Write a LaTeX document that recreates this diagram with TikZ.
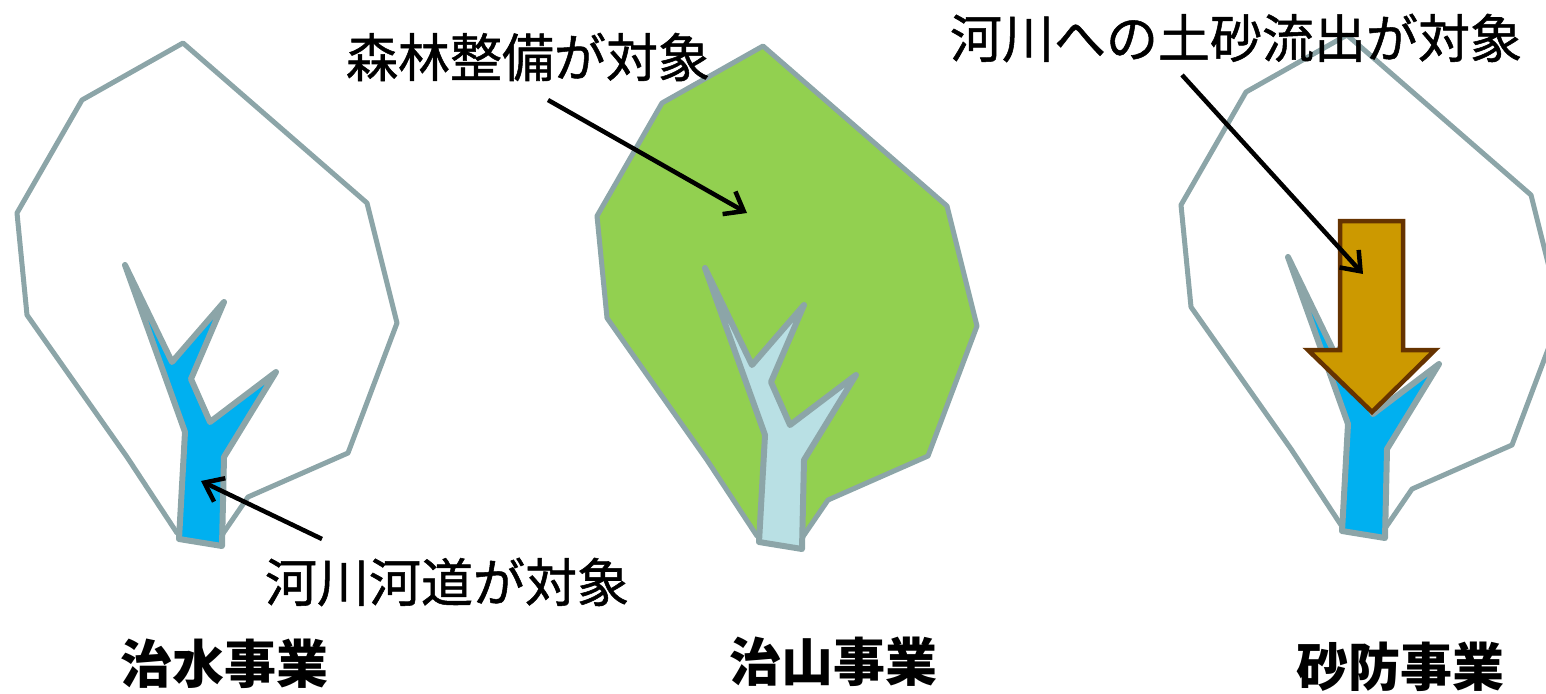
\documentclass[tikz,border=0pt]{standalone}
\usepackage{fontspec}
\newfontfamily\jpfont{Noto Sans CJK JP}
\newfontfamily\jpnote[FakeBold=1]{Noto Sans CJK JP}
\usetikzlibrary{arrows.meta}

\definecolor{rim}{RGB}{140,165,168}
\definecolor{stream}{RGB}{0,176,240}
\definecolor{palestream}{RGB}{185,224,228}
\definecolor{leaf}{RGB}{146,208,80}
\definecolor{sediment}{RGB}{204,153,0}
\definecolor{sedimentedge}{RGB}{102,51,0}

\tikzset{
  % catchment outline (tree crown)
  crown/.pic={
    \path[pic actions, draw=rim, line width=5pt, line join=round]
      (183,43) -- (82,100) -- (17,213) -- (27,315) -- (127,457) -- (177,533)
      -- (222,535) -- (248,497) -- (348,453) -- (397,323) -- (367,203) -- cycle;
  },
  % river channel with its tributaries
  channel/.pic={
    \path[pic actions, draw=rim, line width=6pt, line join=round]
      (125,265) -- (172,362) -- (224,302) -- (191,379) -- (210,422) -- (276,372)
      -- (224,457) -- (222,546) -- (179,539) -- (185,432) -- cycle;
  },
  pointer/.style={line width=4.5pt, -{Straight Barb[length=17pt,width=26pt]}},
  note/.style={inner sep=0pt, font=\jpnote\fontsize{52pt}{60pt}\selectfont},
  title/.style={inner sep=0pt, font=\jpfont\bfseries\fontsize{52pt}{60pt}\selectfont},
}

\begin{document}
\begin{tikzpicture}[x=1pt, y=-1pt]
  \useasboundingbox (0,0) rectangle (1546,693);

  % flood control: river channel
  \pic at (0,0) {crown};
  \pic[fill=stream] at (0,0) {channel};

  % forest conservation: whole forested catchment
  \pic[fill=leaf] at (580,3) {crown};
  \pic[fill=palestream] at (580,3) {channel};

  % erosion control: sediment supplied to the river
  \pic at (1164,-8) {crown};
  \pic[fill=stream] at (1163,-8) {channel};
  \path[fill=sediment, draw=sedimentedge, line width=4.5pt, line join=miter]
    (1340,221) -- (1403,221) -- (1403,350) -- (1435,350) -- (1372,412)
    -- (1308,350) -- (1340,350) -- cycle;

  % annotations
  \node[note] (forestlbl) at (528,57) {森林整備が対象};
  \node[note] (sedimentlbl) at (1236,38) {河川への土砂流出が対象};
  \node[note] (channellbl) at (447,582) {河川河道が対象};

  \coordinate (forestfrom) at (548,100);
  \coordinate (foresttip) at (747,213);
  \coordinate (channelfrom) at (322,539);
  \coordinate (channeltip) at (201,481);
  \coordinate (sedimentfrom) at (1182,75);
  \coordinate (sedimenttip) at (1363,274);

  \draw[pointer] (forestfrom) -- (foresttip);
  \draw[pointer] (channelfrom) -- (channeltip);
  \draw[pointer] (sedimentfrom) -- (sedimenttip);

  % project names
  \node[title] (floodtitle) at (224,664) {治水事業};
  \node[title] (foresttitle) at (833,662) {治山事業};
  \node[title] (sabotitle) at (1400,667) {砂防事業};
\end{tikzpicture}
\end{document}
